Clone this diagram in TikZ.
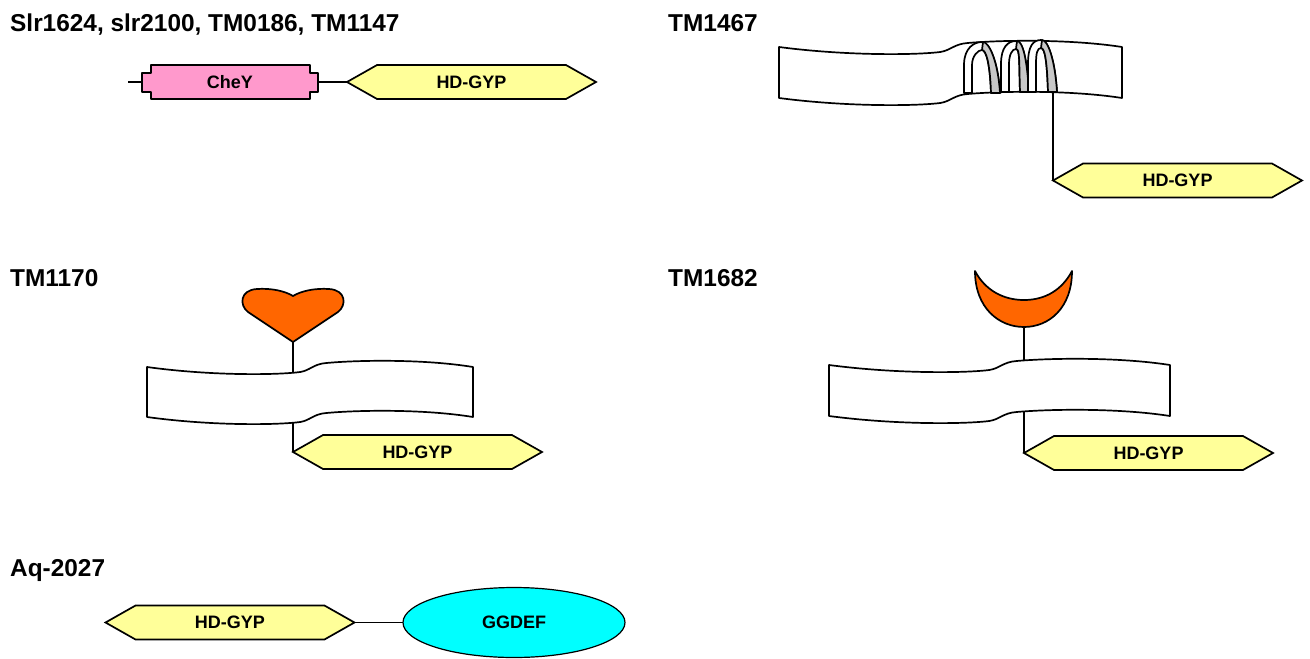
\documentclass[tikz,border=0pt]{standalone}
\usepackage{fontspec}
\setmainfont{Liberation Sans}
\usetikzlibrary{shapes.symbols,shapes.geometric}
\definecolor{hdyellow}{HTML}{FFFF99}
\definecolor{cheypink}{HTML}{FF99CC}
\definecolor{ligorange}{HTML}{FF6600}
\definecolor{ggcyan}{HTML}{00FFFF}
\definecolor{coilgray}{HTML}{C8C8C8}
\newcommand\ttlfont{\fontsize{24.4}{28}\selectfont\bfseries}
\newcommand\lblfont{\fontsize{18}{20}\selectfont\bfseries}
\tikzset{
  ln/.style={line width=1.7pt, line join=round},
  hex/.style={shape=signal, signal to=west and east, signal pointer angle=59,
    draw, fill=hdyellow, line width=1.7pt, minimum width=249pt, minimum height=34pt,
    inner sep=0pt, outer sep=0pt, font=\lblfont},
  band/.style={draw, fill=white, line width=1.7pt, line join=round},
  ttl/.style={anchor=base west, inner sep=0pt, font=\ttlfont},
  cheybox/.style={draw=none, minimum width=176pt, minimum height=19pt, inner sep=0pt,
    outer sep=0pt, font=\lblfont},
  ggbox/.style={shape=ellipse, draw, fill=ggcyan, line width=1.2pt, minimum width=222pt,
    minimum height=70pt, inner sep=0pt, outer sep=0pt, font=\lblfont},
}
\newcommand\bandat[4]{%
  \begin{scope}[shift={(#1,#2)}, xscale=#3/100]
    \draw[band] (0,0) .. controls (20,9) and (40,8) .. (47,5)
      .. controls (50,3.5) and (51,-3) .. (55,-4)
      .. controls (65,-7) and (85,-8) .. (100,0)
      -- (100,#4)
      .. controls (85,{#4-8}) and (65,{#4-7}) .. (55,{#4-4})
      .. controls (51,{#4-3}) and (50,{#4+3.5}) .. (47,{#4+5})
      .. controls (40,{#4+8}) and (20,{#4+9}) .. (0,#4) -- cycle;
  \end{scope}}
\newcommand\coilshape[5]{% xL xP xR yt yb
  \filldraw[fill=white, ln] (#1,#5) -- (#1,{#5-28})
    .. controls (#1,{#4+6}) and ({#2-8},#4) .. (#2,#4)
    .. controls ({#2+7},#4) and ({#3-2},{#5-32}) .. (#3,#5)
    -- ({#3-9},#5)
    .. controls ({#3-10},{#5-30}) and ({#2+4},{#4+8}) .. (#2,{#4+8})
    .. controls ({#2-4},{#4+8}) and ({#1+8},{#4+14}) .. ({#1+8},{#5-28})
    -- ({#1+8},#5) -- cycle;
  \filldraw[fill=coilgray, ln] ({#2+1},#4)
    .. controls ({#2+7},#4) and ({#3-2},{#5-32}) .. (#3,#5)
    -- ({#3-9},#5)
    .. controls ({#3-10},{#5-30}) and ({#2+4},{#4+8}) .. (#2,{#4+8}) -- cycle;}
\begin{document}
\begin{tikzpicture}[x=1pt,y=-1pt]
\fill[white] (0,0) rectangle (1310,659);
\useasboundingbox (0,0) rectangle (1310,659);

% titles
\node[ttl] (t1) at (10,31) {Slr1624, slr2100, TM0186, TM1147};
\node[ttl] (t2) at (668,31) {TM1467};
\node[ttl] (t3) at (10,286) {TM1170};
\node[ttl] (t4) at (668,286) {TM1682};
\node[ttl] (t5) at (10,576) {Aq-2027};

% panel 1: CheY + HD-GYP
\filldraw[fill=cheypink, ln] (151,65) -- (310,65) -- (310,73) -- (318,73) -- (318,92) -- (310,92)
  -- (310,99) -- (151,99) -- (151,92) -- (142,92) -- (142,73) -- (151,73) -- cycle;
\node[cheybox] (chey) at (230,82) {CheY};
\node[hex] (hd1) at (471.5,82) {HD-GYP};
\coordinate (p1s) at (128,82);
\draw[ln] (p1s) -- (chey.west);
\draw[ln] (chey.east) -- (hd1.west);

% TM1467
\node[hex] (hd2) at (1177.5,180.5) {HD-GYP};
\coordinate (b1c) at (1053,70);
\draw[ln] (b1c) -- (hd2.west);
\bandat{779}{47}{343}{51}
\coilshape{964}{982}{1000}{42}{93}
\coilshape{1001}{1016}{1029}{41}{92}
\coilshape{1028}{1041}{1057}{40}{92}

% TM1170
\node[hex] (hd3) at (417.5,452) {HD-GYP};
\coordinate (ht) at (293,342);
\coordinate (b2c) at (293,392);
\draw[ln] (ht) -- (b2c) -- (hd3.west);
\bandat{147}{367}{326}{50}
\filldraw[fill=ligorange, ln] (ht) -- (248,312) .. controls (239,305) and (240,290) .. (257,289)
  .. controls (271,288) and (285,291) .. (293,296)
  .. controls (301,291) and (315,288) .. (329,289)
  .. controls (346,290) and (347,305) .. (338,312) -- cycle;

% TM1682
\node[hex] (hd4) at (1148.5,453) {HD-GYP};
\coordinate (cr) at (1024,327);
\coordinate (b3c) at (1024,390);
\draw[ln] (cr) -- (b3c) -- (hd4.west);
\bandat{829}{365}{341}{51}
\filldraw[fill=ligorange, ln] (975,271) .. controls (975,308) and (999,327) .. (cr)
  .. controls (1049,327) and (1072,308) .. (1072,271)
  .. controls (1062,290) and (1045,300) .. (1024,300)
  .. controls (1003,300) and (985,290) .. (975,271) -- cycle;

% Aq-2027
\node[hex] (hd5) at (230,622.5) {HD-GYP};
\node[ggbox] (gg) at (514,622.5) {GGDEF};
\draw[ln] (hd5.east) -- (gg.west);
\end{tikzpicture}
\end{document}
